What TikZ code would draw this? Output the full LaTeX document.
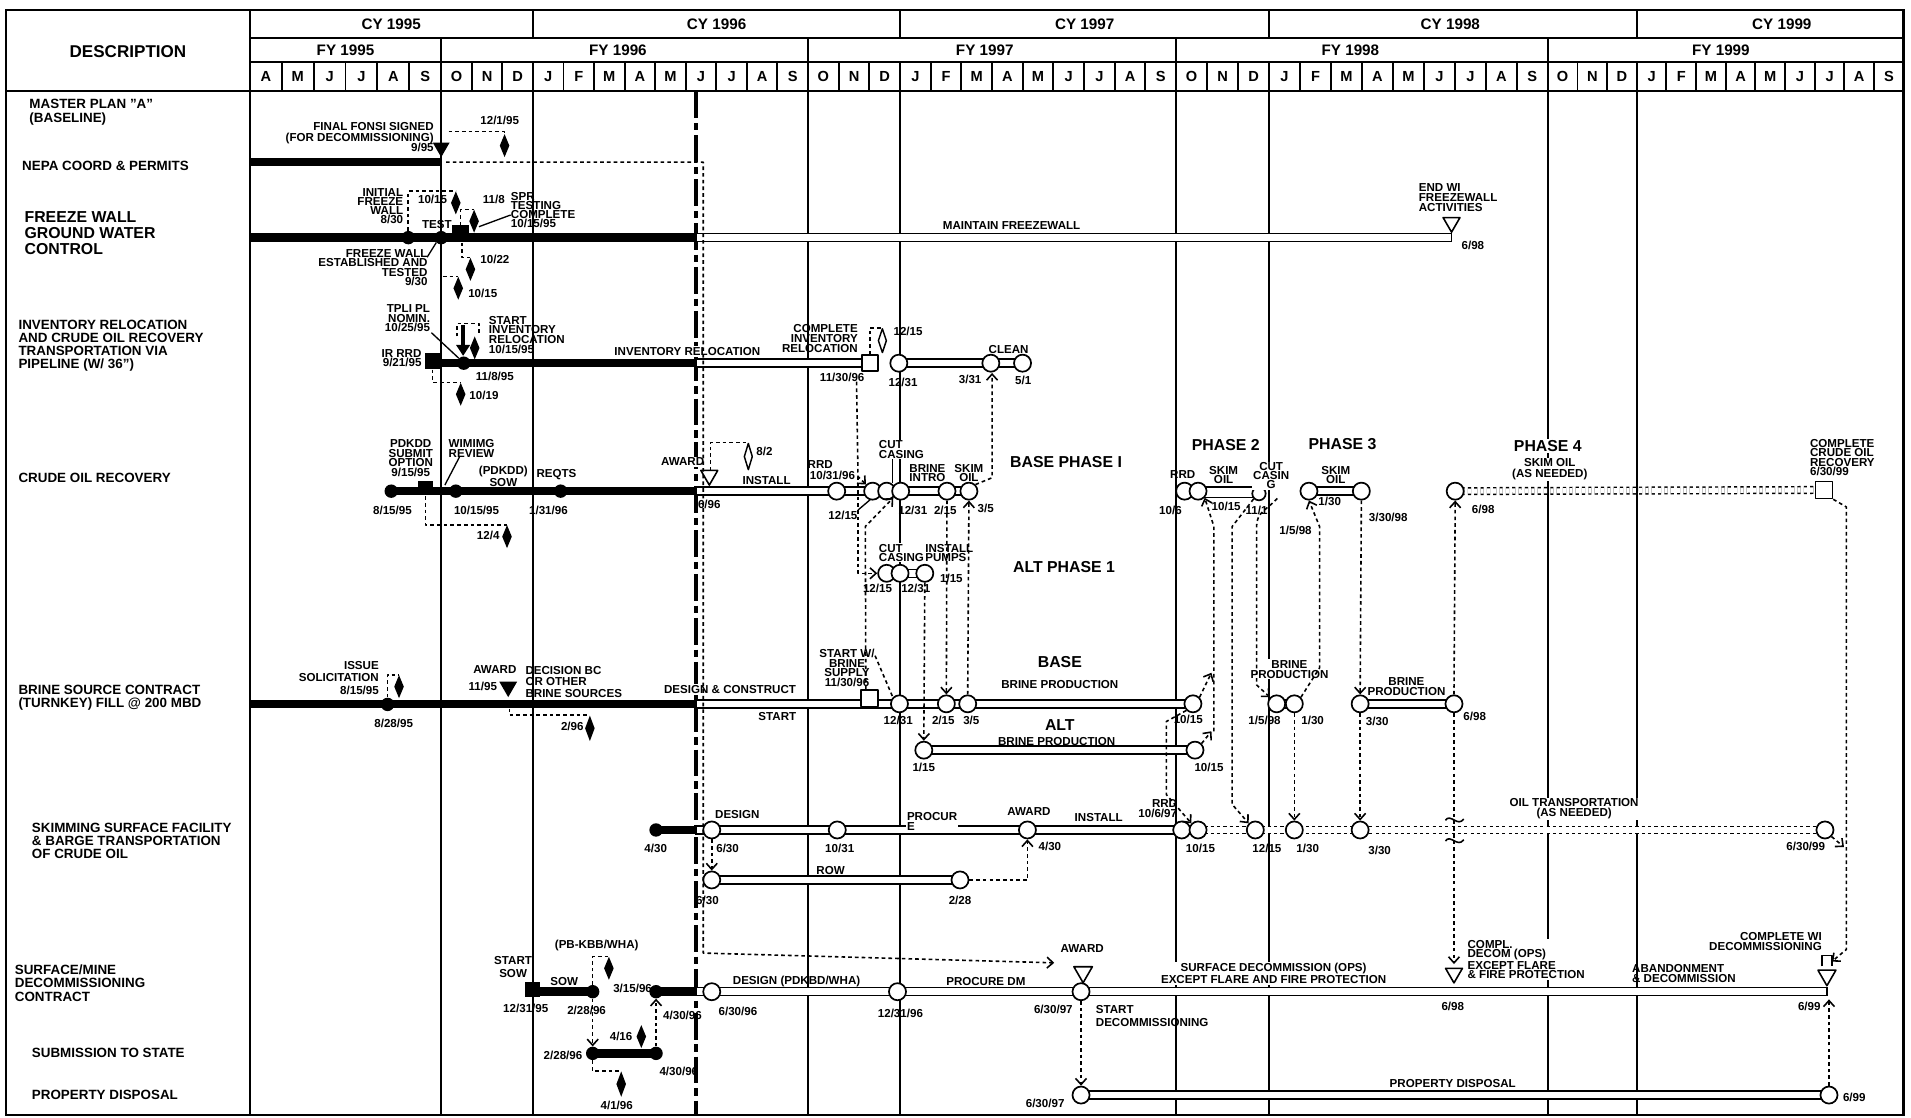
\documentclass[tikz,border=0pt]{standalone}
\usepackage{fontspec}
\setmainfont{Liberation Sans}
\usetikzlibrary{arrows.meta,shapes.geometric,calc}
\pgfdeclarelayer{grid}
\pgfdeclarelayer{bars}
\pgfsetlayers{grid,bars,main}
\newcommand\mkdbar[2]{\draw[dbarsty] ($(#1)+(0,-3.3)$) rectangle ($(#2)+(0,3.3)$);}
\newcommand\mktbar[2]{\fill ($(#1)+(0,-3.5)$) rectangle ($(#2)+(0,3.5)$);}
\newcommand\mkobar[2]{\draw[obarsty] (#1) -- (#2);}
\tikzset{
 gl/.style={line width=1.6pt},
 stat/.style={line width=3.2pt, dash pattern=on 22pt off 4pt on 6pt off 4pt},
 dbarsty/.style={line width=1.2pt, fill=white},
 obarsty/.style={line width=1.2pt, double distance=4.2pt, dash pattern=on 2.6pt off 2.6pt},
 hd/.style={font=\fontsize{14}{14}\selectfont\bfseries, inner sep=0pt},
 hdc/.style={font=\fontsize{12.5}{12.5}\selectfont\bfseries, inner sep=0pt},
 hdm/.style={font=\fontsize{12}{12}\selectfont\bfseries, inner sep=0pt},
 rl/.style={font=\fontsize{11}{#1}\selectfont\bfseries, inner sep=0pt, align=left, anchor=north west},
 rl/.default=11,
 sm/.style={font=\fontsize{9.5}{#1}\selectfont\bfseries, inner sep=0pt},
 sm/.default=8.5,
 big/.style={font=\fontsize{13}{13}\selectfont\bfseries, inner sep=0pt},
 knock/.style={fill=white, inner sep=1pt},
 oc/.style={circle, draw, fill=white, line width=1.4pt, minimum size=14pt, inner sep=0pt},
 fc/.style={circle, fill=black, minimum size=11pt, inner sep=0pt},
 fsq/.style={rectangle, fill=black, minimum width=12pt, minimum height=10pt, inner sep=0pt},
 osq/.style={rectangle, draw, fill=white, line width=1.4pt, minimum size=13pt, inner sep=0pt},
 fdia/.style={diamond, fill=black, minimum width=8pt, minimum height=19pt, inner sep=0pt},
 odia/.style={diamond, draw, fill=white, line width=1.2pt, minimum width=7pt, minimum height=20pt, inner sep=0pt},
 tri/.style={regular polygon, regular polygon sides=3, shape border rotate=180, minimum size=16pt, inner sep=0pt},
 ftri/.style={tri, fill=black},
 otri/.style={tri, draw, fill=white, line width=1.3pt},
 dep/.style={line width=1.3pt, dash pattern=on 3pt off 2.5pt, -{Straight Barb[length=5pt,width=9pt]}},
 dl/.style={line width=1.3pt, dash pattern=on 3pt off 2.5pt},
 lead/.style={line width=1.1pt},
}
\begin{document}
\begin{tikzpicture}[x=1pt, y=-1pt, line join=round,
  declare function={mx(\i)=(\i<=6)?(205+\i*26.1667):((\i<=18)?(362+(\i-6)*25.0833):((\i<=30)?(663+(\i-18)*25.1667):((\i<=42)?(965+(\i-30)*25.4167):(1270+(\i-42)*24.3333))));}]
\useasboundingbox (0,0) rectangle (1568,917);

% ---------------- grid ----------------
\begin{pgfonlayer}{grid}
\draw[line width=2pt] (5,8) rectangle (1562,915);
\draw[gl] (205,8) -- (205,915);
\draw[gl] (205,31) -- (1562,31);
\draw[gl] (205,51) -- (1562,51);
\draw[gl] (5,75) -- (1562,75);
\foreach \x in {437.3,738.5,1041.3,1343} \draw[gl] (\x,8) -- (\x,31);
\foreach \x in {362,663,965,1270} \draw[gl] (\x,31) -- (\x,51);
\foreach \x in {362,437.3,663,738.5,965,1041.3,1270,1343} \draw[gl] (\x,75) -- (\x,915);
\draw[stat] (571,75) -- (571,915);
\end{pgfonlayer}

% ---------------- header ----------------
\node[hd] (desc) at (105,42) {DESCRIPTION};
\node[hdc] (cy95) at (321,19.5) {CY 1995};
\node[hdc] (cy96) at (588,19.5) {CY 1996};
\node[hdc] (cy97) at (890,19.5) {CY 1997};
\node[hdc] (cy98) at (1190,19.5) {CY 1998};
\node[hdc] (cy99) at (1462,19.5) {CY 1999};
\node[hdc] (fy95) at (283.5,41) {FY 1995};
\node[hdc] (fy96) at (507,41) {FY 1996};
\node[hdc] (fy97) at (808,41) {FY 1997};
\node[hdc] (fy98) at (1108,41) {FY 1998};
\node[hdc] (fy99) at (1412,41) {FY 1999};
\foreach \L [count=\i from 0] in {A,M,J,J,A,S,O,N,D,J,F,M,A,M,J,J,A,S,O,N,D,J,F,M,A,M,J,J,A,S,O,N,D,J,F,M,A,M,J,J,A,S,O,N,D,J,F,M,A,M,J,J,A,S}{
  \node[hdm] (mo\i) at ({(mx(\i)+mx(\i+1))/2},63) {\L};
  \draw[gl] ({mx(\i+1)},51) -- ({mx(\i+1)},75);
}

% ---------------- row labels ----------------
\node[rl=12] (lMaster) at (24,81) {MASTER PLAN \char34 A\char34\\(BASELINE)};
\node[rl, anchor=west] (lNepa) at (18,136.5) {NEPA COORD \& PERMITS};
\node[rl, font=\fontsize{13}{13}\selectfont\bfseries] (lFreeze) at (20,173.4) {FREEZE WALL\\GROUND WATER\\CONTROL};
\node[rl=10.5] (lInv) at (15,262.8) {INVENTORY RELOCATION\\AND CRUDE OIL RECOVERY\\TRANSPORTATION VIA\\PIPELINE (W/ 36\char34)};
\node[rl, anchor=west] (lCrude) at (15,392.5) {CRUDE OIL RECOVERY};
\node[rl=11] (lBrine) at (15,562) {BRINE SOURCE CONTRACT\\(TURNKEY) FILL @ 200 MBD};
\node[rl=11] (lSkim) at (26,674.8) {SKIMMING SURFACE FACILITY\\\& BARGE TRANSPORTATION\\OF CRUDE OIL};
\node[rl=11] (lDecom) at (12,791.4) {SURFACE/MINE\\DECOMMISSIONING\\CONTRACT};
\node[rl, anchor=west] (lSub) at (26,863.5) {SUBMISSION TO STATE};
\node[rl, anchor=west] (lProp) at (26,898) {PROPERTY DISPOSAL};

% ---------------- NEPA ----------------
\coordinate (nepa0) at (205,133);
\coordinate (nepaS) at (362,133);
\node[ftri] (nepaT) at (362,121) {};
\node[sm, align=right, anchor=north east] (nepaTxt) at (356,100.6) {FINAL FONSI SIGNED\\(FOR DECOMMISSIONING)};
\node[sm, anchor=east] (nepaDt) at (356,121) {9/95};
\node[fdia] (nepaD) at (414,119.5) {};
\node[sm] (nepaDl) at (410,98.5) {12/1/95};

% ---------------- FREEZE WALL ----------------
\coordinate (fw0) at (205,195);
\coordinate (fwS) at (571,195);
\coordinate (fwE) at (1191,195);
\node[fc] (fwC1) at (335,195) {};
\node[fc] (fwC2) at (362,195) {};
\node[fsq, minimum width=14pt, minimum height=9pt] (fwSq) at (378,189.5) {};
\node[fdia] (fwD1) at (374,166.5) {};
\node[fdia] (fwD2) at (389,181.5) {};
\node[fdia] (fwD3) at (386,221) {};
\node[fdia] (fwD4) at (376,236.5) {};
\node[otri] (fwT) at (1191,182.5) {};
\node[sm=7.3, align=right, anchor=north east] (fwC1l) at (331,154.7) {INITIAL\\FREEZE\\WALL\\8/30};
\node[sm, anchor=east] (fwD1l) at (367,164) {10/15};
\node[sm, anchor=west] (fwD2l) at (396,164) {11/8};
\node[sm] (fwTest) at (358.5,184.5) {TEST};
\node[sm=7.3, align=left, anchor=north west] (fwSprl) at (419,157.9) {SPR\\TESTING\\COMPLETE\\10/15/95};
\node[sm=7.7, align=right, anchor=north east] (fwEstl) at (351,204.5) {FREEZE WALL\\ESTABLISHED AND\\TESTED\\9/30};
\node[sm, anchor=west] (fwD3l) at (394,213) {10/22};
\node[sm, anchor=west] (fwD4l) at (384,240.5) {10/15};
\node[sm] (fwMain) at (830,185) {MAINTAIN FREEZEWALL};
\node[sm=8.2, align=left, anchor=north west] (fwEndl) at (1164,150.3) {END WI\\FREEZEWALL\\ACTIVITIES};
\node[sm] (fwEndd) at (1208.5,201) {6/98};

% ---------------- INVENTORY ----------------
\coordinate (ivB0) at (355,298);
\coordinate (ivS) at (571,298);
\node[fsq, minimum width=12pt, minimum height=13pt] (ivSq) at (355,296.5) {};
\node[fc] (ivC) at (380.5,298) {};
\node[fdia] (ivD1) at (389.5,285.5) {};
\coordinate (ivArT) at (380,267);
\coordinate (ivArB) at (380,292);
\node[sm=8, align=right, anchor=north east] (ivTpl) at (353,249.6) {TPLI PL\\NOMIN.\\10/25/95};
\node[sm=7, align=right, anchor=north east] (ivIr) at (346,286.6) {IR RRD\\9/21/95};
\node[sm=8, align=left, anchor=north west] (ivStart) at (401,259.2) {START\\INVENTORY\\RELOCATION\\10/15/95};
\node[sm] (ivCl) at (406,308.6) {11/8/95};
\node[fdia] (ivD2) at (378,323.5) {};
\node[sm, anchor=west] (ivD2l) at (385,324.2) {10/19};
\node[osq] (ivSq2) at (714,298) {};
\node[sm, knock] (ivRel) at (564,288.5) {INVENTORY RELOCATION};
\node[sm=8.5, align=right, anchor=north east] (ivComp) at (704,265.6) {COMPLETE\\INVENTORY\\RELOCATION};
\node[sm] (ivSq2d) at (691,309.5) {11/30/96};
\node[odia] (ivD3) at (724,279.5) {};
\node[sm, anchor=west] (ivD3l) at (733,272.2) {12/15};
\node[oc] (ivC1) at (737.5,298) {};
\node[oc] (ivC2) at (813,298) {};
\node[oc] (ivC3) at (839,298) {};
\node[sm] (ivC1l) at (741,313.5) {12/31};
\node[sm] (ivC2l) at (796,311.5) {3/31};
\node[sm] (ivC3l) at (839.5,312.5) {5/1};
\node[sm] (ivClean) at (827.6,286.6) {CLEAN};

% ---------------- CRUDE OIL ----------------
\coordinate (coS) at (571,403);
\node[fc] (coC0) at (321,403) {};
\node[fsq, minimum width=12pt, minimum height=8pt] (coSq) at (349,399) {};
\node[fc] (coC1) at (374,403) {};
\node[fc] (coC2f) at (460,403) {};
\node[sm] (coC0l) at (322,419) {8/15/95};
\node[sm=8, align=center, anchor=north] (coPd) at (337,360.3) {PDKDD\\SUBMIT\\OPTION\\9/15/95};
\node[sm=8.3, align=left, anchor=north west] (coWim) at (368,360.3) {WIMIMG\\REVIEW};
\node[sm=8, align=center, anchor=north] (coSow) at (413,382.2) {(PDKDD)\\SOW};
\node[sm, anchor=west] (coReq) at (440,389.7) {REQTS};
\node[sm] (coC1l) at (391,418.5) {10/15/95};
\node[sm] (coC2l) at (450,418.5) {1/31/96};
\node[fdia] (coD) at (416,440.3) {};
\node[sm, anchor=east] (coDl) at (410,439) {12/4};
\node[otri] (coAw) at (582,390) {};
\node[sm, knock, anchor=east] (coAwl) at (579,379) {AWARD};
\node[sm] (coAwd) at (582,414) {6/96};
\node[odia, minimum height=22pt] (coD2) at (614,374.6) {};
\node[sm, anchor=west] (coD2l) at (620.5,370.6) {8/2};
\node[sm] (coInst) at (629,394) {INSTALL};
\node[oc] (coC2) at (686.5,403) {};
\node[sm] (coRrd) at (673,381.5) {RRD};
\node[sm] (coRrdd) at (683,389.7) {10/31/96};
\node[oc] (coC3) at (716,403) {};
\node[oc] (coC4) at (727.5,403) {};
\node[oc] (coC5) at (739,403) {};
\node[sm] (coC3l) at (691.6,422.5) {12/15};
\node[sm=7.5, align=left, anchor=north west, knock] (coCut) at (720,360.5) {CUT\\CASING};
\node[sm] (coC5l) at (749,418.5) {12/31};
\node[oc] (coC6) at (777,403) {};
\node[sm] (coC6l) at (775.6,418.5) {2/15};
\node[sm=7.5, align=left, anchor=north west] (coBri) at (746,380.9) {BRINE\\INTRO};
\node[oc] (coC7) at (795,403) {};
\node[sm=7.5, align=center, anchor=north] (coSkim) at (795,380.9) {SKIM\\OIL};
\node[sm, anchor=west] (coC7l) at (802,417.1) {3/5};
\node[big] (basePh) at (874.7,378.8) {BASE PHASE I};
\node[big] (altPh) at (873,465) {ALT PHASE 1};

% ALT phase 1
\node[oc] (alC1) at (727.5,470.4) {};
\node[oc] (alC2) at (738.5,470.4) {};
\node[oc] (alC3) at (758.8,470.4) {};
\node[sm=7, align=left, anchor=north west, knock] (alCut) at (720,445.5) {CUT\\CASING};
\node[sm=7, align=left, anchor=north west] (alPump) at (759,446.5) {INSTALL\\PUMPS};
\node[sm] (alC1l) at (720,482.7) {12/15};
\node[sm] (alC2l) at (751.4,482.7) {12/31};
\node[sm] (alPl) at (780.6,474.5) {1/15};

% phase 2
\node[big] (ph2) at (1005.7,365) {PHASE 2};
\node[oc] (p2C1) at (972,403) {};
\node[oc] (p2C2) at (983,403) {};
\node[sm] (p2Rrd) at (970.4,389.7) {RRD};
\node[sm=7.7, align=center, anchor=north] (p2Skim) at (1004,382.2) {SKIM\\OIL};
\node[sm] (p2C1l) at (960.4,418.4) {10/6};
\node[sm, anchor=west] (p2C2l) at (994,415.7) {10/15};
\node[oc, minimum size=11pt] (p2C3) at (1033,405) {};
\node[sm] (p2C3l) at (1031,419) {11/1};
\node[sm=7.3, align=center, anchor=north, knock] (p2Cut) at (1043,378.6) {CUT\\CASIN\\G};
\node[sm] (p2C4l) at (1063,434.9) {1/5/98};

% phase 3
\node[big] (ph3) at (1101.5,364.3) {PHASE 3};
\node[oc] (p3C1) at (1074,403) {};
\node[oc] (p3C2) at (1117,403) {};
\node[sm=7.7, align=center, anchor=north] (p3Skim) at (1096,382.2) {SKIM\\OIL};
\node[sm] (p3C1l) at (1091,411.8) {1/30};
\node[sm, anchor=west] (p3C2l) at (1123,424.5) {3/30/98};

% phase 4
\node[big, knock] (ph4) at (1270,366) {PHASE 4};
\node[sm=8.5, align=center, anchor=north, knock] (p4Skim) at (1271.6,375.2) {SKIM OIL\\(AS NEEDED)};
\node[oc] (p4C1) at (1194,403) {};
\node[sm] (p4C1l) at (1217,418) {6/98};
\node[osq, minimum size=14pt] (p4Sq) at (1496.5,402) {};
\node[sm=7.7, align=left, anchor=north west] (p4Comp) at (1485,360.3) {COMPLETE\\CRUDE OIL\\RECOVERY\\6/30/99};

% ---------------- BRINE ----------------
\coordinate (br0) at (205,577.5);
\coordinate (brS) at (571,577.5);
\node[fc] (brC0) at (318,578) {};
\node[sm] (brC0l) at (323,593.5) {8/28/95};
\node[sm=10.3, align=right, anchor=north east] (brIss) at (311,542.2) {ISSUE\\SOLICITATION\\8/15/95};
\node[fdia] (brD1) at (327.4,563.4) {};
\node[sm] (brAw) at (406,549.7) {AWARD};
\node[sm, anchor=east] (brAwd) at (408,563.4) {11/95};
\node[ftri, minimum size=17pt] (brT) at (417,563.5) {};
\node[sm=9.6, align=left, anchor=north west] (brDec) at (431,546.3) {DECISION BC\\OR OTHER\\BRINE SOURCES};
\node[fdia, minimum height=21pt] (brD2) at (484,597.6) {};
\node[sm, anchor=east] (brD2l) at (479,596) {2/96};
\node[osq, minimum size=13.5pt] (brSq) at (713.4,573) {};
\node[sm, knock] (brDes) at (599,566) {DESIGN \& CONSTRUCT};
\node[sm] (brStart) at (637.8,588) {START};
\node[sm=7.8, align=center, anchor=north] (brSw) at (695,532.6) {START W/\\BRINE\\SUPPLY\\11/30/96};
\node[oc] (brC3) at (738,577.5) {};
\node[sm] (brC3l) at (737,591) {12/31};
\node[oc] (brC4) at (776.5,577.5) {};
\node[sm] (brC4l) at (774,591) {2/15};
\node[oc] (brC5) at (794,577.5) {};
\node[sm] (brC5l) at (797,591) {3/5};
\node[oc] (brC6) at (978.8,577.5) {};
\node[sm] (brC6l) at (975,590) {10/15};
\node[big] (brBase) at (869.6,542.9) {BASE};
\node[sm] (brProd) at (869.6,562) {BRINE PRODUCTION};
\node[oc] (abC1) at (758,615.5) {};
\node[oc] (abC2) at (980.5,615.5) {};
\node[big] (abAlt) at (869.6,594.9) {ALT};
\node[sm] (abProd) at (867,608.5) {BRINE PRODUCTION};
\node[sm] (abC1l) at (758,629.5) {1/15};
\node[sm] (abC2l) at (992,630) {10/15};
\node[oc] (b2C1) at (1047.5,577.5) {};
\node[oc] (b2C2) at (1062,577.5) {};
\node[sm=8, align=center, anchor=north, knock] (b2Prod) at (1058,540.6) {BRINE\\PRODUCTION};
\node[sm] (b2C1l) at (1037.6,590.8) {1/5/98};
\node[sm] (b2C2l) at (1077,590.8) {1/30};
\node[oc] (b3C1) at (1116,577.5) {};
\node[oc] (b3C2) at (1193,577.5) {};
\node[sm=8.2, align=center, anchor=north] (b3Prod) at (1154,555.9) {BRINE\\PRODUCTION};
\node[sm] (b3C1l) at (1130,592) {3/30};
\node[sm] (b3C2l) at (1210,588) {6/98};

% ---------------- SKIMMING ----------------
\coordinate (skS) at (571,681);
\node[fc] (skC0) at (538.3,681) {};
\node[sm] (skC0l) at (538,696) {4/30};
\node[oc] (skC1) at (584,681) {};
\node[oc] (skC2) at (687,681) {};
\node[oc] (skC3) at (843,681) {};
\node[oc] (skC4) at (969.6,681) {};
\node[oc] (skC5) at (983,681) {};
\node[oc] (skC6) at (1030,681) {};
\node[oc] (skC7) at (1062,681) {};
\node[oc] (skC8) at (1116,681) {};
\node[oc] (skEnd) at (1497.4,681) {};
\node[sm] (skDes) at (605,668.7) {DESIGN};
\node[sm] (skC1l) at (597,696) {6/30};
\node[sm] (skC2l) at (689,696) {10/31};
\node[sm=8, align=left, anchor=north west, knock] (skProc) at (743,665.6) {PROCUR\\E};
\node[sm] (skAw) at (844.3,666) {AWARD};
\node[sm, anchor=west] (skC3l) at (852,694.2) {4/30};
\node[sm] (skInst) at (901.5,670.6) {INSTALL};
\node[sm=8.4, align=right, anchor=north east] (skRrd) at (966,655.6) {RRD\\10/6/97};
\node[sm] (skC5l) at (985,696) {10/15};
\node[sm] (skC6l) at (1039.5,696) {12/15};
\node[sm] (skC7l) at (1073,696) {1/30};
\node[sm] (skC8l) at (1132,697.5) {3/30};
\node[sm=8.2, align=center, anchor=north, knock] (skOil) at (1291.6,654.2) {OIL TRANSPORTATION\\(AS NEEDED)};
\node[sm] (skEndl) at (1481.6,694.7) {6/30/99};
\node[oc] (rwC1) at (584,722) {};
\node[oc] (rwC2) at (787.7,722) {};
\node[sm] (rwRow) at (681.5,713.9) {ROW};
\node[sm] (rwC1l) at (580.5,738.5) {6/30};
\node[sm] (rwC2l) at (787.7,738.5) {2/28};

% ---------------- DECOMMISSIONING ----------------
\coordinate (dcB0) at (437,813.7);
\coordinate (dcS) at (571,813.7);
\coordinate (dcE) at (1499,813.7);
\node[sm=10.9, align=center, anchor=north] (dcStart) at (421,784.3) {START\\SOW};
\node[fsq, minimum width=12pt, minimum height=12pt] (dcSq) at (437,811.7) {};
\node[fc] (dcC1) at (486.3,813.7) {};
\node[sm] (dcSow) at (463,805.5) {SOW};
\node[sm] (dcSql) at (431.4,827.4) {12/31/95};
\node[sm] (dcC1l) at (481.3,828.7) {2/28/96};
\node[sm] (dcPb) at (489.6,775.4) {(PB-KBB/WHA)};
\node[fdia] (dcD1) at (499.6,794.5) {};
\node[sm, anchor=west] (dcD1l) at (503,811) {3/15/96};
\node[fc] (dcC2) at (538.3,813.7) {};
\node[sm] (dcC2l) at (560,832.8) {4/30/96};
\node[oc] (dcC3) at (584,813.7) {};
\node[sm] (dcC3l) at (605.5,830.1) {6/30/96};
\node[sm] (dcDes) at (653.6,805.5) {DESIGN (PDKBD/WHA)};
\node[oc] (dcC4) at (736.4,813.7) {};
\node[sm] (dcC4l) at (738.8,831.5) {12/31/96};
\node[sm] (dcProc) at (808.9,805.5) {PROCURE DM};
\node[otri, minimum size=17.5pt] (dcT1) at (888.7,797.6) {};
\node[oc] (dcC5) at (887,813.7) {};
\node[sm] (dcAw) at (888,778.1) {AWARD};
\node[sm, anchor=east] (dcC5l) at (880.3,828.2) {6/30/97};
\node[sm=10.9, align=left, anchor=north west] (dcStartD) at (899,824.8) {START\\DECOMMISSIONING};
\node[sm=8.2, align=center, knock] (dcSurf) at (1045,798.6) {SURFACE DECOMMISSION (OPS)\\EXCEPT FLARE AND FIRE PROTECTION};
\node[otri] (dcT2) at (1193,798.5) {};
\node[sm] (dcT2l) at (1192,825.4) {6/98};
\node[sm=7.7, align=left, anchor=north west, knock] (dcCompl) at (1203,770.2) {COMPL.\\DECOM (OPS)\\EXCEPT FLARE\\\& FIRE PROTECTION};
\node[sm=8.2, align=left, anchor=north west] (dcAban) at (1339,791.1) {ABANDONMENT\\\& DECOMMISSION};
\node[otri, minimum size=17pt] (dcEnd) at (1499,800.3) {};
\node[sm=8.2, align=right, anchor=north east] (dcCwi) at (1495,765.2) {COMPLETE WI\\DECOMMISSIONING};
\node[sm, anchor=east] (dcEndl) at (1494,826) {6/99};

% ---------------- SUBMISSION / PROPERTY ----------------
\node[fc] (sbC1) at (486.3,864.3) {};
\node[fc] (sbC2) at (538.3,864.3) {};
\node[sm, anchor=east] (sbC1l) at (478,865.6) {2/28/96};
\node[sm] (sbD1l) at (509.6,850.6) {4/16};
\node[fdia] (sbD1) at (526.2,850.5) {};
\node[sm] (sbC2l) at (557,879.3) {4/30/96};
\node[fdia, minimum height=21pt] (sbD2) at (509.7,889.5) {};
\node[sm] (sbD2l) at (506,906.7) {4/1/96};
\node[oc] (pdC1) at (887,898.5) {};
\node[oc] (pdEnd) at (1500.7,898.5) {};
\node[sm] (pdTxt) at (1192,889.4) {PROPERTY DISPOSAL};
\node[sm, anchor=east] (pdC1l) at (873.6,905.3) {6/30/97};
\node[sm, anchor=west] (pdEndl) at (1512,900.4) {6/99};

% ---------------- connectors ----------------
\draw[dl] (368,108) -| (nepaD.north);
\draw[dep] (nepaS) ++(4,0) -- (577,133) -- (577,782) -- (865,790);
\draw[dl] (fwC1.north) |- (fwD1.north);
\draw[dl] (fwSq.north) |- (fwD2.north);
\draw[lead] (419,176.4) -- (393,186);
\draw[lead] (350.5,211) -- (fwC2.south west);
\draw[dl] ($(fwSq.south)+(1,5)$) |- (fwD3.north);
\draw[dl] (fwC2.south) |- (fwD4.north);
\draw[line width=3pt, -{Triangle[length=9pt,width=11pt]}] (ivArT) -- (ivArB);
\draw[dl] (375,276) -- (375,265.5) -- (393,265.5) -- (393,274);
\draw[lead] (354,273) -- (ivC.north west);
\draw[dl] (ivSq.south) |- (ivD2.north);
\draw[dl] (ivSq2.north) |- (ivD3.north);
\draw[dep] (ivSq2.south west) ++(-4,8) -- (704,391) -- (coC3.north west);
\draw[dep] (704,391) -- (704,470.4) -- (alC1.west);
\draw[dl] ($(coSq.south)+(0,4)$) |- (coD.north);
\draw[lead] (377,375) -- (365,398);
\draw[dl] ($(coAw.center)+(1,-4)$) |- (coD2.north);
\draw[lead] (704,418.5) -- (714,410);
\draw[lead] (732.5,377) -- (732.5,396);
\draw[dep] ($(brSq.north)+(-3,0)$) -- (710,432) -- (coC4.south east);
\draw[dl] (718,538) -- (brC3.north west);
\draw[dep] (coC7.north east) -- (814,392) -- (814,306);
\draw[dep] (brC5.north) -- (coC7.south);
\draw[dep] (coC6.south) -- (brC4.north);
\draw[dep] (alC3.south) -- (abC1.north);
\draw[dl] (brC0.north) |- (brD1.north);
\draw[dl] ($(brT.center)+(1,18)$) |- (brD2.north);
\draw[dep] (brC6.north east) -- (994,552);
\draw[dep] (abC2.north east) -- (994,600);
\draw[dep] (996,600) -- (996,432) -- (p2C2.south east);
\draw[dep] (brC6.south west) -- (957,592) -- (957,652) -- (skC5.north west);
\draw[dep] (p2C3.south west) -- (1011,432) -- (1011,660) -- (skC6.north west);
\draw[dep] (1048,409) .. controls (1040,418) and (1031,420) .. (1031,432) -- (1031,562) -- (b2C1.north west);
\draw[dep] (b2C2.north east) -- (1082.7,548) -- (1082.7,432) -- (p3C1.south);
\draw[dep] (b2C2.south) -- (skC7.north);
\draw[dep] (p3C2.south) -- (b3C1.north);
\draw[dep] (b3C1.south) -- (skC8.north);
\draw[dep] (b3C2.north) -- (p4C1.south);
\draw[dep] (b3C2.south) -- (1193,791);
\draw[dep] (p4Sq.south east) -- (1515,416) -- (1515,779) -- (1503,789);
\draw[dep] (skEnd.south east) -- (1513,695);
\draw[dep] (skC1.south) -- (rwC1.north);
\draw[dep] (rwC2.east) -| (skC3.south);
\draw[line width=1.2pt] (1495,793) -- (1495,784) -- (1503,784) -- (1503,793);
\draw[dep] (pdEnd.north) -- (1500.7,820);
\draw[dep] (dcC5.south) -- (pdC1.north);
\draw[dl] (dcC1.north) |- (dcD1.north);
\draw[dep] (dcC1.south) -- (sbC1.north);
\draw[dep] (sbC2.north) -- (dcC2.south);
\draw[dl] (sbC1.south) |- (sbD2.north);
\draw[line width=1.3pt] (1186,673) .. controls (1190,667) and (1196,679) .. (1201,672);
\draw[line width=1.3pt] (1186,690) .. controls (1190,684) and (1196,696) .. (1201,689);

% ---------------- bars ----------------
\begin{pgfonlayer}{bars}
\mktbar{nepa0}{nepaS}
\mktbar{fw0}{fwS}
\mkdbar{fwS}{fwE}
\mktbar{ivB0}{ivS}
\mkdbar{ivS}{ivSq2.center}
\mkdbar{ivC1.center}{ivC3.center}
\mktbar{coC0.center}{coS}
\mkdbar{coS}{coC7.center}
\mkdbar{alC2.center}{alC3.center}
\mkdbar{p2C1.center}{p2C3.center}
\mkdbar{p3C1.center}{p3C2.center}
\mkobar{p4C1.center}{p4Sq.center}
\mktbar{br0}{brS}
\mkdbar{brS}{brC6.center}
\mkdbar{abC1.center}{abC2.center}
\mkdbar{b2C1.center}{b2C2.center}
\mkdbar{b3C1.center}{b3C2.center}
\mktbar{skC0.center}{skS}
\mkdbar{skS}{skC5.center}
\mkobar{skC5.center}{skEnd.center}
\mkdbar{rwC1.center}{rwC2.center}
\mktbar{dcB0}{dcC1.center}
\mktbar{dcC2.center}{dcS}
\mkdbar{dcS}{dcE}
\mktbar{sbC1.center}{sbC2.center}
\mkdbar{pdC1.center}{pdEnd.center}
\end{pgfonlayer}
\end{tikzpicture}
\end{document}
